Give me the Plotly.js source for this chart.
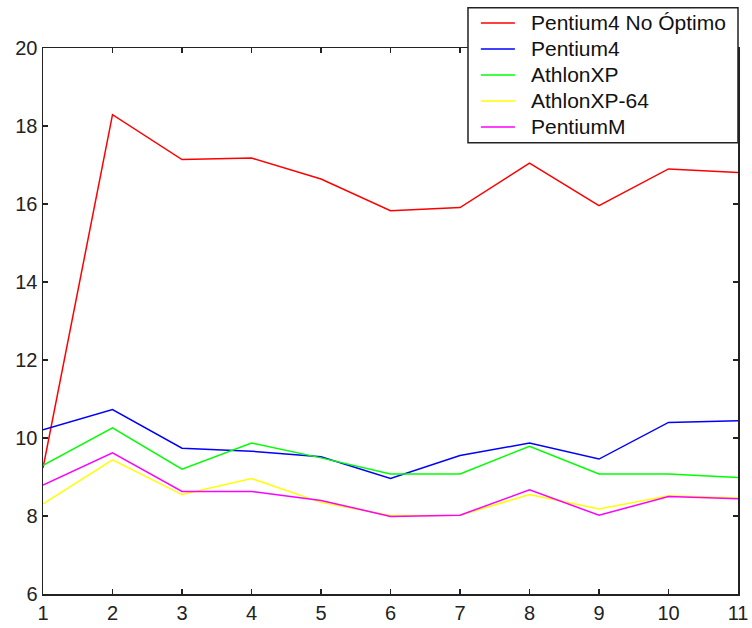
<!DOCTYPE html>
<html>
<head>
<meta charset="utf-8">
<script src="https://cdn.plot.ly/plotly-3.0.1.min.js"></script>
<style>html,body{margin:0;padding:0;background:#fff;}#chart{width:752px;height:628px;}</style>
</head>
<body>
<div id="chart"></div>
<script>
const xVals = [1, 2, 3, 4, 5, 6, 7, 8, 9, 10, 11];
const pentium4NoOptimo = [9.23, 18.29, 17.14, 17.18, 16.64, 15.83, 15.91, 17.05, 15.96, 16.90, 16.81];
const pentium4 = [10.21, 10.73, 9.74, 9.66, 9.52, 8.96, 9.55, 9.87, 9.46, 10.40, 10.44];
const athlonXP = [9.30, 10.26, 9.20, 9.87, 9.49, 9.08, 9.08, 9.79, 9.08, 9.08, 8.99];
const athlonXP64 = [8.31, 9.44, 8.55, 8.96, 8.35, 8.01, 8.02, 8.55, 8.18, 8.52, 8.46];
const pentiumM = [8.79, 9.62, 8.63, 8.63, 8.40, 7.99, 8.02, 8.67, 8.02, 8.50, 8.44];
const seriesNames = ["Pentium4 No Óptimo", "Pentium4", "AthlonXP", "AthlonXP-64", "PentiumM"];
const seriesColors = ["#ff0000", "#0000ff", "#00ff00", "#ffff00", "#ff00ff"];
const seriesData = [pentium4NoOptimo, pentium4, athlonXP, athlonXP64, pentiumM];

const FONT = 'Liberation Sans, Arial, sans-serif';

const traces = seriesData.map((ys, i) => ({
  x: xVals, y: ys, type: 'scatter', mode: 'lines', name: seriesNames[i],
  line: {color: seriesColors[i], width: 1.5}
}));

// Legend drawn as a box (MATLAB style) in paper coordinates
const legX0 = 0.6115, legX1 = 1.0, legY0 = 0.8266, legY1 = 1.0738;
const rowTop = 1.0458, rowStep = 26 / 546;
const shapes = [{
  type: 'rect', xref: 'paper', yref: 'paper', x0: legX0, x1: legX1, y0: legY0, y1: legY1,
  line: {color: '#222', width: 1.5}, fillcolor: '#fff', layer: 'above'
}];
const annotations = [];
seriesNames.forEach((name, i) => {
  const yy = rowTop - i * rowStep;
  shapes.push({
    type: 'line', xref: 'paper', yref: 'paper', x0: 0.630, x1: 0.679, y0: yy, y1: yy,
    line: {color: seriesColors[i], width: 1.5}, layer: 'above'
  });
  annotations.push({
    xref: 'paper', yref: 'paper', x: 0.6993, y: yy, xanchor: 'left', yanchor: 'middle',
    text: name, showarrow: false, font: {family: FONT, size: 21, color: '#111'}
  });
});

const axisCommon = {
  showgrid: false, zeroline: false, showline: true, linecolor: '#222', linewidth: 1.5,
  mirror: 'ticks', ticks: 'inside', ticklen: 5, tickwidth: 1.5, tickcolor: '#222',
  tickfont: {family: FONT, size: 20, color: '#222'}
};

const layout = {
  width: 752, height: 628,
  margin: {l: 43, r: 14, t: 48, b: 34},
  paper_bgcolor: '#fff', plot_bgcolor: '#fff',
  showlegend: false,
  shapes: shapes,
  annotations: annotations,
  xaxis: Object.assign({}, axisCommon, {range: [1, 11], tickmode: 'linear', tick0: 1, dtick: 1}),
  yaxis: Object.assign({}, axisCommon, {range: [6, 20], tickmode: 'linear', tick0: 6, dtick: 2})
};

Plotly.newPlot('chart', traces, layout, {displayModeBar: false, staticPlot: true});
</script>
</body>
</html>
